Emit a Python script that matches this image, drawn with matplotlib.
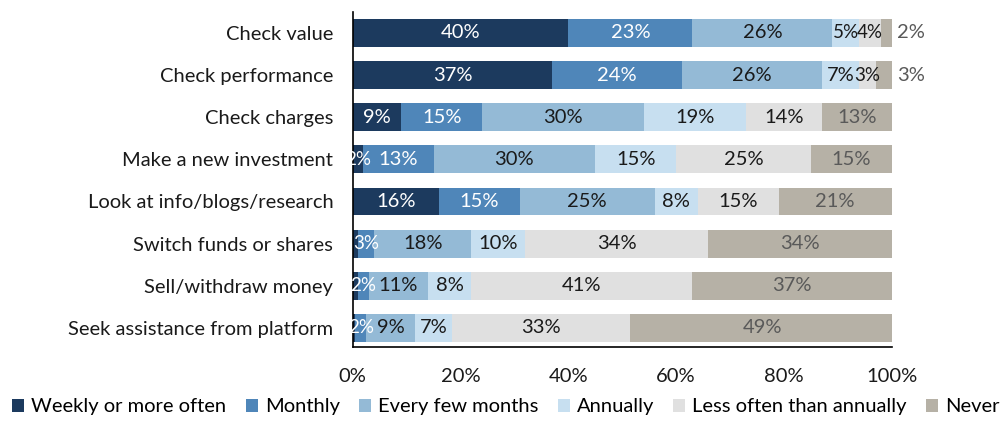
import matplotlib.pyplot as plt
import numpy as np

plt.rcParams['font.family'] = ['Lato', 'DejaVu Sans']

categories = ['Check value', 'Check performance', 'Check charges', 'Make a new investment',
              'Look at info/blogs/research', 'Switch funds or shares', 'Sell/withdraw money',
              'Seek assistance from platform']
series = ['Weekly or more often', 'Monthly', 'Every few months', 'Annually',
          'Less often than annually', 'Never']
weekly = [40, 37, 9, 2, 16, 1, 1, 0.5]
monthly = [23, 24, 15, 13, 15, 3, 2, 2]
few_months = [26, 26, 30, 30, 25, 18, 11, 9]
annually = [5, 7, 19, 15, 8, 10, 8, 7]
less_often = [4, 3, 14, 25, 15, 34, 41, 33]
never = [2, 3, 13, 15, 21, 34, 37, 49]

colors = ['#1c3a5e', '#4f86b9', '#94bad6', '#c7dff0', '#e0e0e0', '#b6b1a6']
text_colors = ['white', 'white', '#1a1a1a', '#1a1a1a', '#1a1a1a', '#595959']
fs = 14.5

fig = plt.figure(figsize=(10.02, 4.23), dpi=100)
ax = fig.add_axes([0.352, 0.18, 0.538, 0.792])

y = np.arange(len(categories))
left = np.zeros(len(categories))
for vals, name, col, tcol in zip([weekly, monthly, few_months, annually, less_often, never],
                                 series, colors, text_colors):
    vals = np.array(vals, dtype=float)
    ax.barh(y, vals, left=left, height=0.66, color=col, label=name)
    for i, v in enumerate(vals):
        if v < 2:
            continue
        cx = left[i] + v / 2
        size = fs
        if v <= 5:
            size = fs - 1  # narrow segments: slightly smaller so neighbours don't collide
        if name == 'Never' and v <= 3:
            cx = left[i] + v + 3.6
            size = fs
        ax.text(cx, y[i], f'{v:.0f}%', ha='center', va='center', color=tcol,
                fontsize=size, clip_on=False)
    left += vals

ax.set_xlim(0, 100)
ax.set_ylim(7.45, -0.5)
ax.set_yticks(y)
ax.set_yticklabels(categories, fontsize=fs, color='#1a1a1a')
ax.set_xticks(np.arange(0, 101, 20))
ax.set_xticklabels([f'{t}%' for t in range(0, 101, 20)], fontsize=fs, color='#1a1a1a')
ax.tick_params(length=0)
ax.tick_params(axis='y', pad=14)
ax.tick_params(axis='x', pad=15)
for s in ['top', 'right']:
    ax.spines[s].set_visible(False)
ax.spines['left'].set_linewidth(1.2)
ax.spines['bottom'].set_linewidth(1.2)

handles, labels = ax.get_legend_handles_labels()
fig.legend(handles, labels, loc='lower center', bbox_to_anchor=(0.505, -0.025), ncol=6,
           frameon=False, fontsize=fs, handlelength=0.6, handleheight=0.6,
           handletextpad=0.35, columnspacing=0.95)

fig.savefig('out.png', dpi=100)
